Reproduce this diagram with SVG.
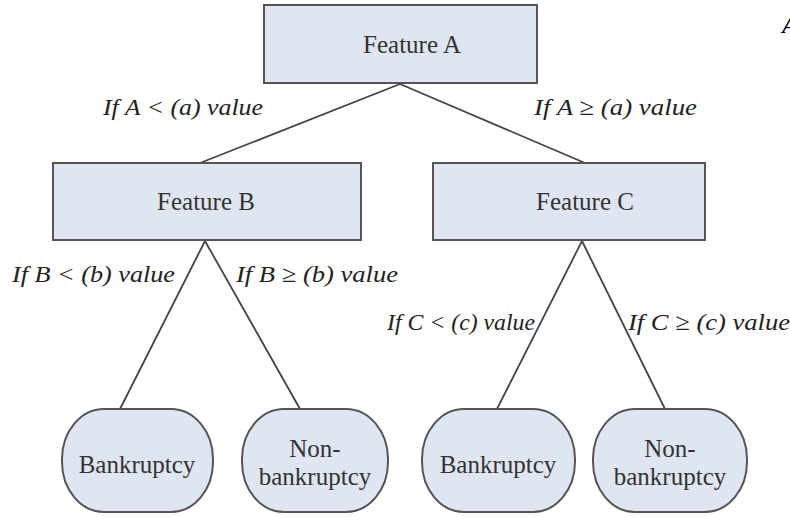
<svg xmlns="http://www.w3.org/2000/svg" width="790" height="517" viewBox="0 0 790 517">
<style>
.box{fill:#dfe6f2;stroke:#555;stroke-width:2}
.nt{font-family:"Liberation Serif","Times New Roman","DejaVu Serif",serif;font-size:25px;fill:#333;text-anchor:middle}
.lb{font-family:"Liberation Serif","Times New Roman","DejaVu Serif",serif;font-size:24px;font-style:italic;fill:#222}
.ln{stroke:#444;stroke-width:1.8;fill:none}
</style>
<rect width="790" height="517" fill="#fff"/>
<g id="connectors">
<line class="ln" x1="400" y1="84" x2="200" y2="163"/>
<line class="ln" x1="400" y1="84" x2="585" y2="163"/>
<line class="ln" x1="205" y1="241" x2="120" y2="409"/>
<line class="ln" x1="205" y1="241" x2="300" y2="409"/>
<line class="ln" x1="582" y1="241" x2="497" y2="409"/>
<line class="ln" x1="582" y1="241" x2="665" y2="409"/>
</g>
<g id="featureA"><rect class="box" x="264" y="5" width="273" height="78"/><text class="nt" x="412" y="53">Feature A</text></g>
<g id="featureB"><rect class="box" x="53" y="163" width="308" height="77"/><text class="nt" x="206" y="210">Feature B</text></g>
<g id="featureC"><rect class="box" x="433" y="163" width="272" height="77"/><text class="nt" x="585" y="210">Feature C</text></g>
<g id="leafB1"><rect class="box" x="62" y="409" width="151" height="103" rx="42" ry="50"/><text class="nt" x="137" y="473">Bankruptcy</text></g>
<g id="leafN1"><rect class="box" x="242" y="409" width="146" height="103" rx="42" ry="50"/><text class="nt" x="315" y="457">Non-</text><text class="nt" x="315" y="485">bankruptcy</text></g>
<g id="leafB2"><rect class="box" x="422" y="409" width="153" height="103" rx="42" ry="50"/><text class="nt" x="498" y="473">Bankruptcy</text></g>
<g id="leafN2"><rect class="box" x="593" y="409" width="154" height="103" rx="42" ry="50"/><text class="nt" x="670" y="457">Non-</text><text class="nt" x="670" y="485">bankruptcy</text></g>
<g id="labels">
<text class="lb" x="103" y="115" textLength="160" lengthAdjust="spacingAndGlyphs">If  A &lt; (a) value</text>
<text class="lb" x="534" y="115" textLength="163" lengthAdjust="spacingAndGlyphs">If  A ≥ (a) value</text>
<text class="lb" x="12" y="282" textLength="163" lengthAdjust="spacingAndGlyphs">If  B &lt; (b) value</text>
<text class="lb" x="236" y="282" textLength="162" lengthAdjust="spacingAndGlyphs">If  B ≥ (b) value</text>
<text class="lb" x="387" y="330" textLength="148" lengthAdjust="spacingAndGlyphs">If C &lt; (c) value</text>
<text class="lb" x="628" y="330" textLength="162" lengthAdjust="spacingAndGlyphs">If C ≥ (c) value</text>
<text x="782" y="33" font-family="Liberation Serif,Times New Roman,serif" font-size="24" font-weight="bold" font-style="italic" fill="#000">A</text>
</g>
</svg>
